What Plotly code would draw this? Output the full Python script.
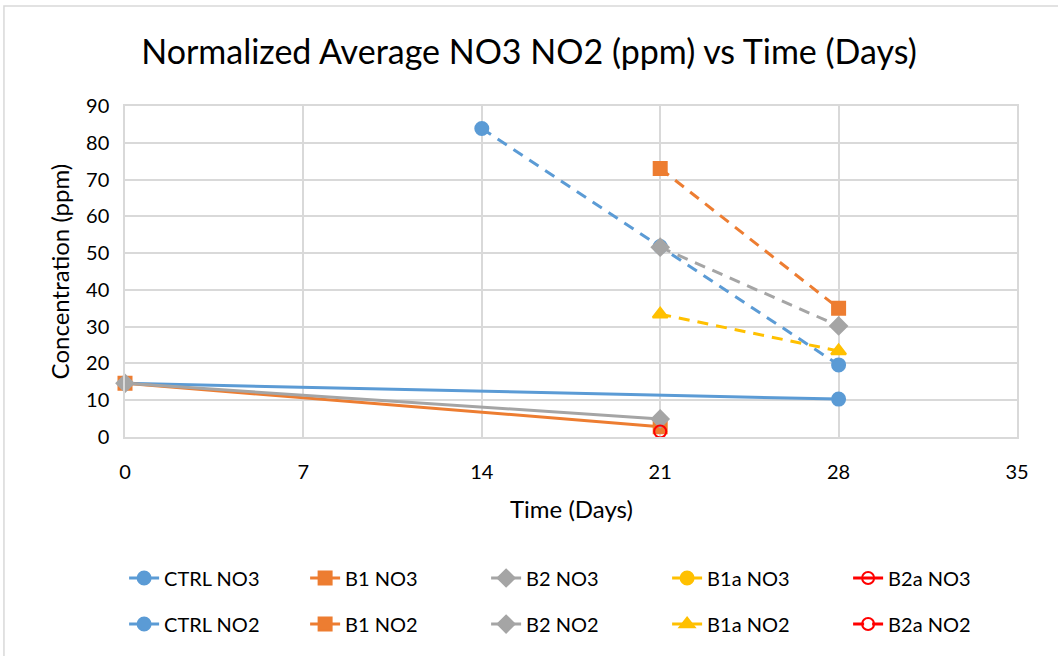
import plotly.graph_objects as go

# Sampling days and measured concentrations (ppm)
days_ctrl_no3 = [0, 28]
ctrl_no3 = [14.6, 10.3]
days_b1_no3 = [0, 21]
b1_no3 = [14.6, 2.8]
days_b2_no3 = [0, 21]
b2_no3 = [14.6, 4.9]
days_b1a_no3 = [None]
b1a_no3 = [None]
days_b2a_no3 = [21]
b2a_no3 = [1.5]

days_ctrl_no2 = [14, 21, 28]
ctrl_no2 = [83.9, 51.8, 19.6]
days_b1_no2 = [21, 28]
b1_no2 = [73.0, 35.0]
days_b2_no2 = [21, 28]
b2_no2 = [51.6, 30.2]
days_b1a_no2 = [21, 28]
b1a_no2 = [33.4, 23.4]
days_b2a_no2 = [None]
b2a_no2 = [None]

x_ticks = [0, 7, 14, 21, 28, 35]
y_ticks = [0, 10, 20, 30, 40, 50, 60, 70, 80, 90]

BLUE = "#5B9BD5"
ORANGE = "#ED7D31"
GRAY = "#A5A5A5"
YELLOW = "#FFC000"
RED = "#FF0000"
FONT = "Lato"
DASH = "11px,8px"

series = [
    ("CTRL NO3", days_ctrl_no3, ctrl_no3, BLUE, "circle", "solid", "legend"),
    ("B1 NO3", days_b1_no3, b1_no3, ORANGE, "square", "solid", "legend"),
    ("B2 NO3", days_b2_no3, b2_no3, GRAY, "diamond", "solid", "legend"),
    ("B1a NO3", days_b1a_no3, b1a_no3, YELLOW, "circle", "solid", "legend"),
    ("B2a NO3", days_b2a_no3, b2a_no3, RED, "circle-open", "solid", "legend"),
    ("CTRL NO2", days_ctrl_no2, ctrl_no2, BLUE, "circle", DASH, "legend2"),
    ("B1 NO2", days_b1_no2, b1_no2, ORANGE, "square", DASH, "legend2"),
    ("B2 NO2", days_b2_no2, b2_no2, GRAY, "diamond", DASH, "legend2"),
    ("B1a NO2", days_b1a_no2, b1a_no2, YELLOW, "triangle-up", DASH, "legend2"),
    ("B2a NO2", days_b2a_no2, b2a_no2, RED, "circle-open", DASH, "legend2"),
]

fig = go.Figure()
for name, xs, ys, color, symbol, dash, leg in series:
    open_marker = symbol.endswith("open")
    fig.add_trace(go.Scatter(
        x=xs, y=ys, name=name, mode="lines+markers",
        line=dict(color=color, width=3, dash=dash),
        marker=dict(symbol=symbol, size=13 if not open_marker else 12,
                    color=color, line=dict(color=color, width=2)),
        legend=leg, cliponaxis=False, showlegend=True,
    ))

legend_common = dict(
    orientation="h", xanchor="left", yanchor="middle", x=-0.001,
    entrywidth=136, entrywidthmode="pixels",
    font=dict(family=FONT, size=20, color="#000000"),
    bgcolor="rgba(0,0,0,0)", itemclick=False, itemdoubleclick=False,
)

fig.update_layout(
    width=1058, height=656,
    margin=dict(l=125, r=41, t=106, b=219, autoexpand=False),
    paper_bgcolor="white", plot_bgcolor="white",
    font=dict(family=FONT, color="#000000"),
    title=dict(text="Normalized Average NO3 NO2 (ppm) vs Time (Days)",
               x=0.5, xanchor="center", y=0.92, yanchor="middle",
               font=dict(family=FONT, size=34, color="#000000")),
    xaxis=dict(range=[0, 35], tickvals=x_ticks, showgrid=True,
               gridcolor="#D9D9D9", gridwidth=1.5, zeroline=False,
               showline=True, linecolor="#D9D9D9", linewidth=1.5, mirror=True,
               tickfont=dict(family=FONT, size=20), ticks="",
               ticklabelstandoff=16),
    yaxis=dict(range=[0, 90], tickvals=y_ticks, showgrid=True,
               gridcolor="#D9D9D9", gridwidth=1.5, zeroline=False,
               showline=True, linecolor="#D9D9D9", linewidth=1.5, mirror=True,
               tickfont=dict(family=FONT, size=20), ticks="",
               ticklabelstandoff=10),
    legend=dict(y=-0.426, **legend_common),
    legend2=dict(y=-0.565, **legend_common),
    showlegend=True,
    annotations=[
        dict(text="Time (Days)", xref="paper", yref="paper", x=0.5, y=-0.215,
             xanchor="center", yanchor="middle", showarrow=False,
             font=dict(family=FONT, size=24, color="#000000")),
        dict(text="Concentration (ppm)", xref="paper", yref="paper",
             x=-0.073, y=0.5, xanchor="center", yanchor="middle",
             textangle=-90, showarrow=False,
             font=dict(family=FONT, size=24, color="#000000")),
    ],
    shapes=[
        dict(type="rect", xref="paper", yref="paper",
             x0=-0.1357, x1=1.2, y0=-1.0, y1=1.302,
             line=dict(color="#D9D9D9", width=1.5), layer="below"),
    ],
)

fig.write_html("out.html")
